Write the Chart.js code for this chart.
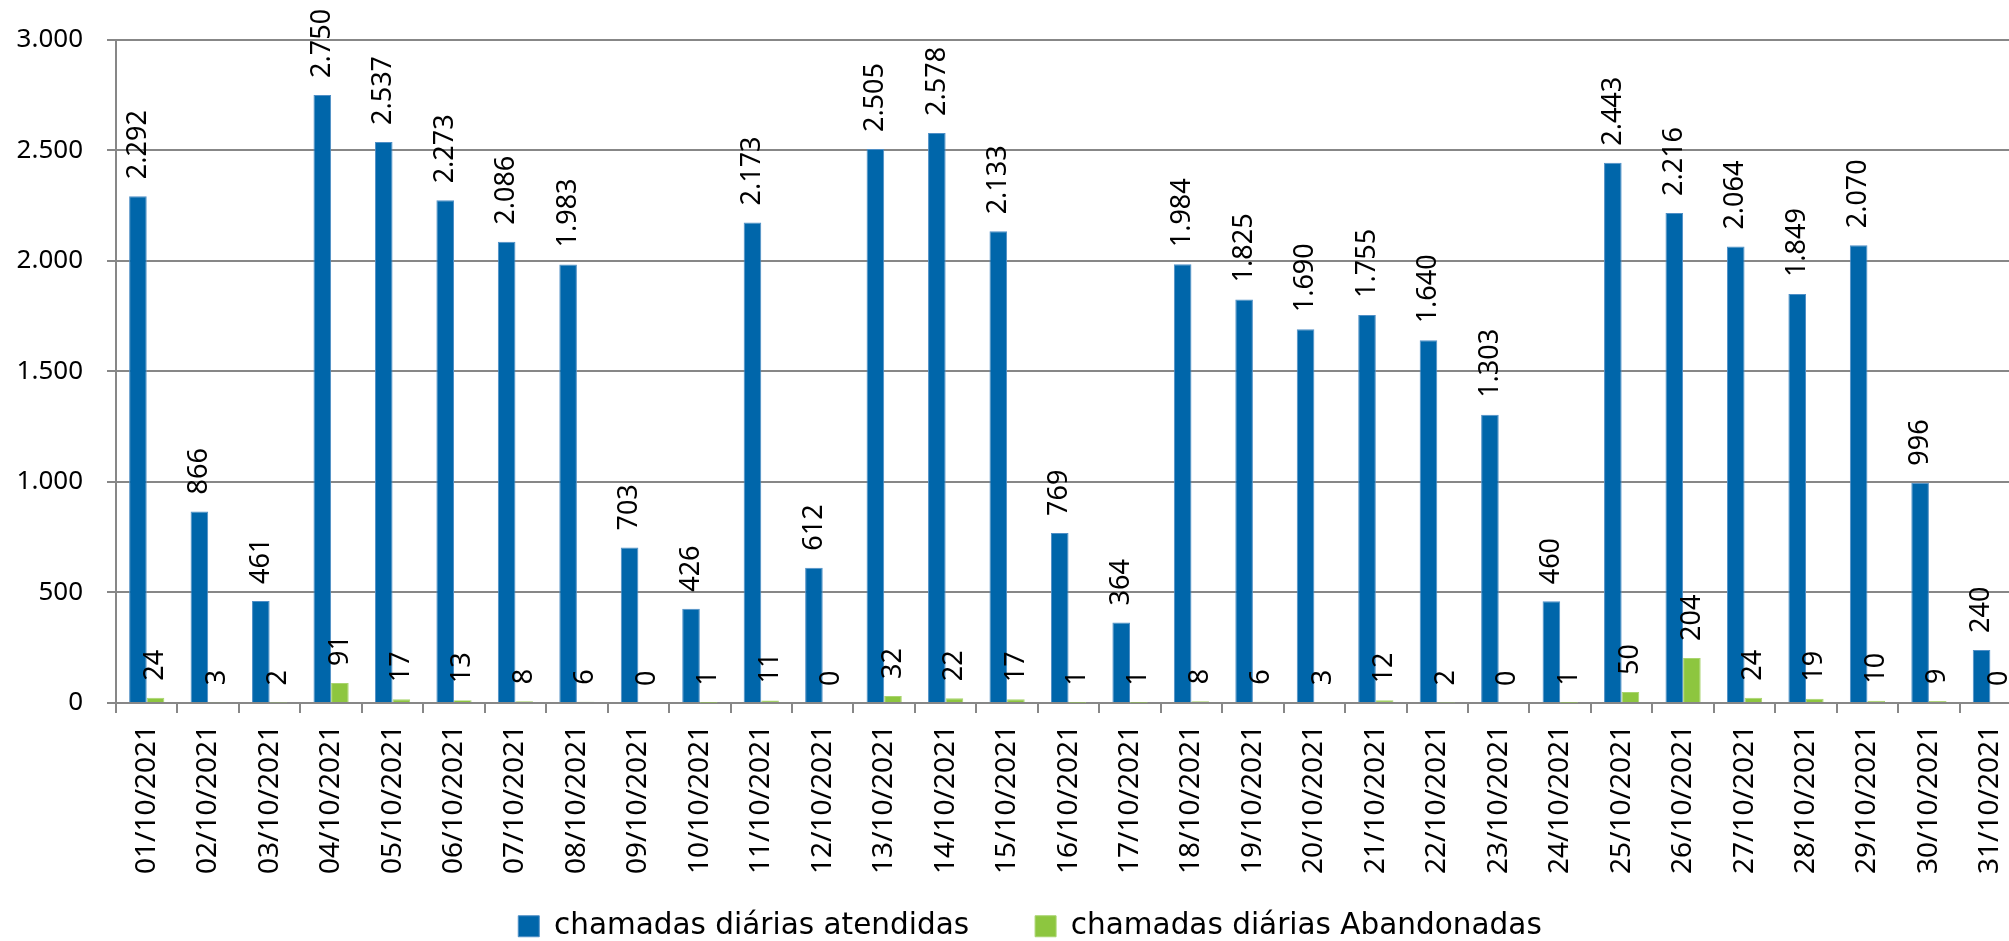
<!DOCTYPE html>
<html lang="pt-BR">
<head>
<meta charset="utf-8">
<title>Chamadas diárias - outubro 2021</title>
<script src="https://cdn.jsdelivr.net/npm/chart.js@4.4.1/dist/chart.umd.min.js"></script>
<style>
  html, body { margin: 0; padding: 0; background: #fff; overflow: hidden; }
  #wrap { width: 2036px; height: 941px; position: relative; }
</style>
</head>
<body>
<div id="wrap"><canvas id="chart-chamadas"></canvas></div>
<script>
// dias do mês
const dias = [
  '01/10/2021', '02/10/2021', '03/10/2021', '04/10/2021', '05/10/2021', '06/10/2021',
  '07/10/2021', '08/10/2021', '09/10/2021', '10/10/2021', '11/10/2021', '12/10/2021',
  '13/10/2021', '14/10/2021', '15/10/2021', '16/10/2021', '17/10/2021', '18/10/2021',
  '19/10/2021', '20/10/2021', '21/10/2021', '22/10/2021', '23/10/2021', '24/10/2021',
  '25/10/2021', '26/10/2021', '27/10/2021', '28/10/2021', '29/10/2021', '30/10/2021',
  '31/10/2021'
];

const atendidas = [
  2292, 866, 461, 2750, 2537, 2273, 2086, 1983, 703, 426, 2173, 612, 2505, 2578, 2133,
  769, 364, 1984, 1825, 1690, 1755, 1640, 1303, 460, 2443, 2216, 2064, 1849, 2070, 996, 240
];

const abandonadas = [
  24, 3, 2, 91, 17, 13, 8, 6, 0, 1, 11, 0, 32, 22, 17,
  1, 1, 8, 6, 3, 12, 2, 0, 1, 50, 204, 24, 19, 10, 9, 0
];

const yTicks = [0, 500, 1000, 1500, 2000, 2500, 3000];

const AZUL = '#0066aa';
const VERDE = '#8dc63f';
const CINZA = '#878787';

const LEG_FONTE = 29.5;
const LEG_PAD = 66;

// milhar com ponto (pt-BR)
function fmt(v) {
  return String(v).replace(/\B(?=(\d{3})+(?!\d))/g, '.');
}

// rótulos verticais acima de cada barra
const rotulos = {
  id: 'rotulos',
  afterDatasetsDraw(chart) {
    const ctx = chart.ctx;
    ctx.save();
    ctx.fillStyle = '#000';
    ctx.font = '27px "Noto Sans"';
    ctx.textAlign = 'left';
    ctx.textBaseline = 'middle';
    chart.data.datasets.forEach((ds, i) => {
      chart.getDatasetMeta(i).data.forEach((bar, j) => {
        ctx.save();
        ctx.translate(bar.x, bar.y - 17);
        ctx.rotate(-Math.PI / 2);
        ctx.fillText(fmt(ds.data[j]), 0, 0);
        ctx.restore();
      });
    });
    ctx.restore();
  }
};

// legenda: espaçamento horizontal largo sem roubar altura do gráfico
const alturaLegenda = {
  id: 'alturaLegenda',
  beforeInit(chart) {
    const fit = chart.legend.fit;
    chart.legend.fit = function () {
      fit.call(this);
      this.height = LEG_PAD + LEG_FONTE;
    };
  }
};

// rótulos dos eixos saem da caixa do eixo; não recortar
const semRecorte = scale => { scale._computeLabelArea = () => undefined; };

const ctx = document.getElementById('chart-chamadas').getContext('2d');

new Chart(ctx, {
  type: 'bar',
  data: {
    labels: dias,
    datasets: [
      {
        label: 'chamadas diárias atendidas',
        data: atendidas,
        backgroundColor: AZUL,
        borderColor: '#4f8fc6',
        borderWidth: 1,
        categoryPercentage: 0.573,
        barPercentage: 1.0
      },
      {
        label: 'chamadas diárias Abandonadas',
        data: abandonadas,
        backgroundColor: VERDE,
        borderColor: '#a9d46f',
        borderWidth: 1,
        categoryPercentage: 0.573,
        barPercentage: 1.0
      }
    ]
  },
  options: {
    responsive: true,
    maintainAspectRatio: false,
    animation: false,
    layout: {
      padding: { top: 37, left: 26, right: 2, bottom: 0 }
    },
    plugins: {
      tooltip: { enabled: false },
      legend: {
        position: 'bottom',
        labels: {
          color: '#000',
          font: { family: 'DejaVu Sans', size: LEG_FONTE },
          boxWidth: 21,
          boxHeight: 21,
          padding: LEG_PAD
        }
      }
    },
    scales: {
      x: {
        afterFit(scale) {
          scale.height = 941 - (LEG_PAD + LEG_FONTE) - 703;
          semRecorte(scale);
        },
        grid: {
          display: true,
          drawOnChartArea: false,
          drawTicks: true,
          tickLength: 10,
          color: CINZA,
          lineWidth: 2
        },
        border: { display: true, color: CINZA, width: 2 },
        ticks: {
          color: '#000',
          font: { family: 'Noto Sans', size: 28 },
          minRotation: 90,
          maxRotation: 90,
          autoSkip: false,
          padding: 12
        }
      },
      y: {
        min: 0,
        max: 3000,
        afterFit(scale) {
          scale.width = 90;
          semRecorte(scale);
        },
        afterBuildTicks(scale) {
          scale.ticks = yTicks.map(v => ({ value: v }));
        },
        grid: {
          color: CINZA,
          lineWidth: 2,
          tickLength: 9
        },
        border: { display: true, color: CINZA, width: 2 },
        ticks: {
          color: '#000',
          font: { family: 'Noto Sans', size: 26 },
          padding: 24,
          callback: v => fmt(v)
        }
      }
    }
  },
  plugins: [rotulos, alturaLegenda]
});
</script>
</body>
</html>
